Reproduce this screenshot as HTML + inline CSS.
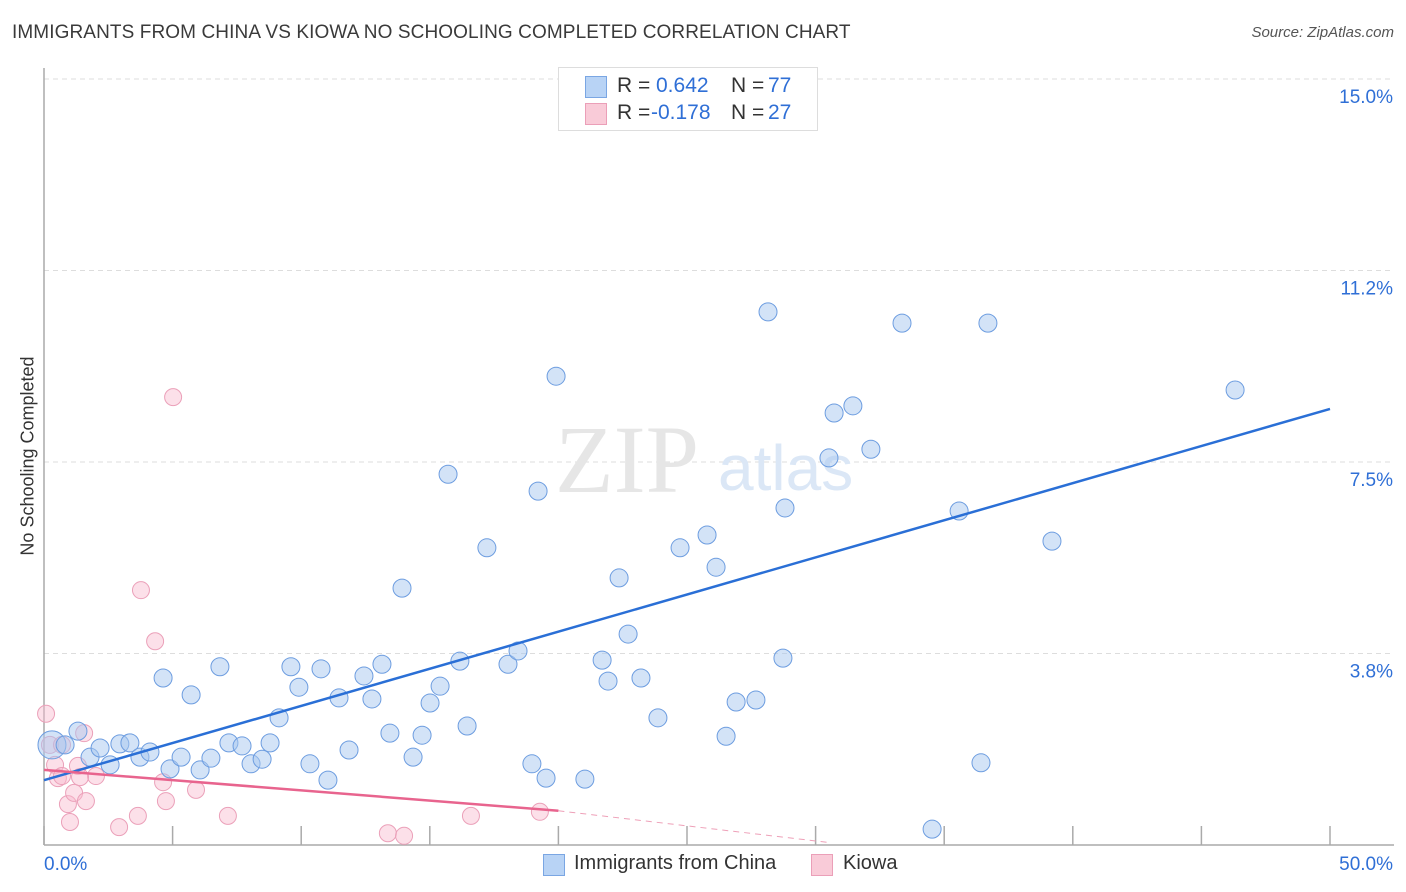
<!DOCTYPE html>
<html><head><meta charset="utf-8"><style>
body{margin:0;background:#fff;font-family:"Liberation Sans",sans-serif;}
#wrap{position:relative;width:1406px;height:892px;overflow:hidden;}
.t{position:absolute;white-space:nowrap;}
</style></head><body>
<div id="wrap">
<div class="t" style="left:12px;top:22px;font-size:19px;color:#3a3a3a;letter-spacing:0.1px;">IMMIGRANTS FROM CHINA VS KIOWA NO SCHOOLING COMPLETED CORRELATION CHART</div>
<div class="t" style="right:12px;top:24px;font-size:15px;color:#555;font-style:italic;">Source: ZipAtlas.com</div>
<div class="t" style="left:28px;top:456px;font-size:18px;color:#333;transform:translate(-50%,-50%) rotate(-90deg);">No Schooling Completed</div>
<svg id="svg" width="1406" height="892" style="position:absolute;left:0;top:0"></svg>
<div style="position:absolute;left:558px;top:67px;width:258px;height:62px;border:1px solid #ddd;background:#fff;font-size:21px;">
 <div style="position:absolute;left:26px;top:6px;width:240px;">
  <span style="position:absolute;left:0;top:2px;width:20px;height:20px;background:#b8d3f5;border:1px solid #7aa6e3;"></span>
  <span class="t" style="left:32px;color:#333">R =</span><span class="t" style="left:71px;color:#2f6fd6">0.642</span><span class="t" style="left:146px;color:#333">N =</span><span class="t" style="left:183px;color:#2f6fd6">77</span>
 </div>
 <div style="position:absolute;left:26px;top:33px;width:240px;">
  <span style="position:absolute;left:0;top:2px;width:20px;height:20px;background:#f9cbd8;border:1px solid #eb9fb8;"></span>
  <span class="t" style="left:32px;color:#333">R =</span><span class="t" style="left:66px;color:#2f6fd6">-0.178</span><span class="t" style="left:146px;color:#333">N =</span><span class="t" style="left:183px;color:#2f6fd6">27</span>
 </div>
</div>
<div style="position:absolute;left:0;top:852px;font-size:20px;color:#333;">
 <span style="position:absolute;left:543px;top:2px;width:20px;height:20px;background:#b8d3f5;border:1px solid #7aa6e3;"></span>
 <span class="t" style="left:574px;top:0">Immigrants from China</span>
 <span style="position:absolute;left:811px;top:2px;width:20px;height:20px;background:#f9cbd8;border:1px solid #eb9fb8;"></span>
 <span class="t" style="left:843px;top:0">Kiowa</span>
</div>
</div>
<script>
const blueX=[0.31,0.82,1.32,1.79,2.18,2.57,2.95,3.34,3.73,4.12,4.63,4.90,5.33,5.72,6.07,6.49,6.84,7.19,7.70,8.05,8.48,8.79,9.14,9.60,9.91,10.34,10.77,11.04,11.47,11.86,12.44,12.75,13.14,13.45,13.92,14.35,14.70,15.01,15.40,15.71,16.17,16.45,17.22,18.04,18.43,18.97,19.21,19.52,19.91,21.03,21.70,21.93,22.36,22.71,23.21,23.87,24.73,25.78,26.13,26.52,26.91,27.68,28.15,28.73,28.81,30.52,30.72,31.45,32.15,33.36,34.53,35.58,36.43,36.70,39.19,46.31];
const blueY=[1.96,1.96,2.23,1.72,1.90,1.57,1.98,2.00,1.72,1.82,3.27,1.49,1.72,2.94,1.47,1.70,3.49,2.00,1.94,1.59,1.68,2.00,2.49,3.49,3.09,1.59,3.45,1.27,2.88,1.86,3.31,2.86,3.54,2.19,5.03,1.72,2.15,2.78,3.11,7.26,3.60,2.33,5.82,3.54,3.80,1.59,6.93,1.31,9.18,1.29,3.62,3.21,5.23,4.13,3.27,2.49,5.82,6.07,5.44,2.13,2.80,2.84,10.44,3.66,6.60,7.58,8.46,8.60,7.75,10.22,0.31,6.54,1.61,10.22,5.95,8.91];
const pinkX=[0.08,0.23,0.43,0.54,0.70,0.93,1.01,1.17,1.32,1.56,1.63,2.02,1.40,2.92,3.65,3.77,4.32,4.63,4.74,5.02,5.91,7.15,13.37,14.00,16.60,19.28,0.70];
const pinkY=[2.57,1.96,1.57,1.31,1.35,0.80,0.45,1.02,1.55,2.19,0.86,1.35,1.33,0.35,0.57,4.99,3.99,1.23,0.86,8.77,1.08,0.57,0.23,0.18,0.57,0.65,1.96];
const blueTrend=[1.27,8.54];
const pinkTrend=[1.47,-0.53];
const pinkDashEnd=[30.5,0.05];
const yTicks=[3.75,7.5,11.25,15];
const yTickLabels=["3.8%","7.5%","11.2%","15.0%"];
const xTickVals=[0,5,10,15,20,25,30,35,40,45,50];
const xTickLabels=["0.0%","50.0%"];
const X0=44,X1=1330,Y0=845,YTOP=79;
const sx=v=>X0+(X1-X0)*v/50;
const sy=v=>Y0-(Y0-YTOP)*v/15;
const svg=document.getElementById('svg');
const NS='http://www.w3.org/2000/svg';
function mk(tag,attrs){const e=document.createElementNS(NS,tag);for(const k in attrs)e.setAttribute(k,attrs[k]);svg.appendChild(e);return e;}
yTicks.forEach((v,i)=>{
 const g=mk('line',{x1:X0,x2:1394,y1:sy(v),y2:sy(v),stroke:'#ddd','stroke-dasharray':'5,4'});
 
 
 const t=mk('text',{x:1393,y:sy(v)+24,'text-anchor':'end','font-size':19,fill:'#2f6fd6','font-family':'Liberation Sans, sans-serif'});
 t.textContent=yTickLabels[i];
 
 
});
const ax=mk('line',{x1:X0,x2:1394,y1:Y0,y2:Y0,stroke:'#aaa','stroke-width':1.5});


const ay=mk('line',{x1:X0,x2:X0,y1:68,y2:Y0,stroke:'#aaa','stroke-width':1.5});


xTickVals.forEach(v=>{
 const l=mk('line',{x1:sx(v),x2:sx(v),y1:Y0-19,y2:Y0,stroke:'#aaa','stroke-width':1.5});
 
 
});
[[0,'start',44],[50,'end',1393]].forEach((d,i)=>{
 const t=mk('text',{x:d[2],y:870,'text-anchor':d[1],'font-size':19,fill:'#2f6fd6','font-family':'Liberation Sans, sans-serif'});
 t.textContent=xTickLabels[i];
 
 
});
const w1=mk('text',{x:555,y:492,'font-size':96,fill:'#e6e6e6','font-family':'Liberation Serif, serif'});
w1.textContent='ZIP';


const w2=mk('text',{x:718,y:490,'font-size':64,fill:'#dbe7f6','font-family':'Liberation Sans, sans-serif'});
w2.textContent='atlas';


pinkX.forEach((x,i)=>{
 const c=mk('circle',{cx:sx(x),cy:sy(pinkY[i]),r:8.5,fill:'rgba(248,186,206,0.45)',stroke:'#eba0b9','stroke-width':1});
 
 
});
blueX.forEach((x,i)=>{
 const c=mk('circle',{cx:sx(x),cy:sy(blueY[i]),r:i===0?14:9,fill:'rgba(168,200,240,0.5)',stroke:'#6d9de0','stroke-width':1});
 
 
});
const bl=mk('line',{x1:sx(0),y1:sy(blueTrend[0]),x2:sx(50),y2:sy(blueTrend[1]),stroke:'#2a6fd6','stroke-width':2.5});


const pf=x=>pinkTrend[0]+(pinkTrend[1]-pinkTrend[0])*x/50;
const pl=mk('line',{x1:sx(0),y1:sy(pf(0)),x2:sx(20),y2:sy(pf(20)),stroke:'#e8648e','stroke-width':2.5});


const pd=mk('line',{x1:sx(20),y1:sy(pf(20)),x2:sx(pinkDashEnd[0]),y2:sy(pinkDashEnd[1]),stroke:'#eea0b8','stroke-width':1,'stroke-dasharray':'6,5'});


</script>
</body></html>
